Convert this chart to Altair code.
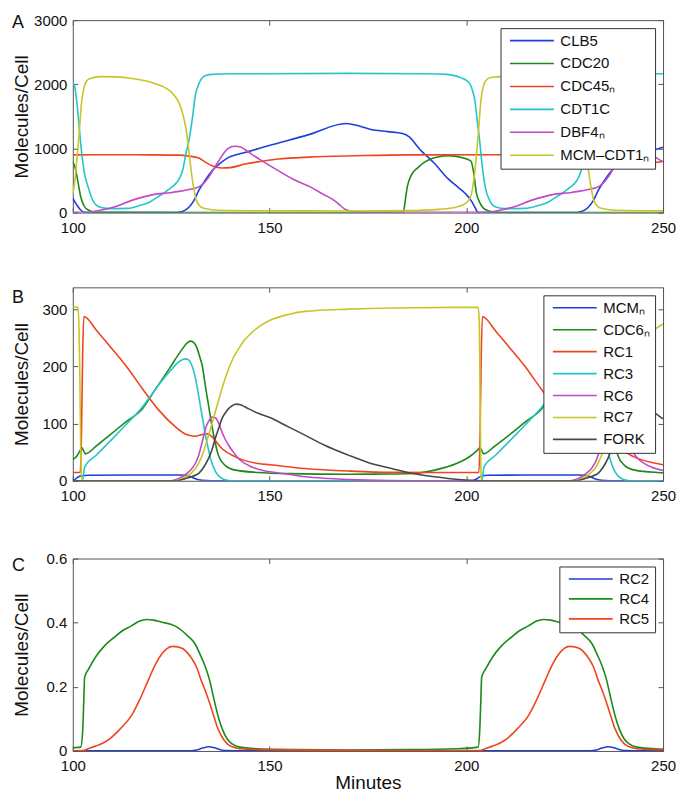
import altair as alt
import pandas as pd

FONT = "Liberation Sans"
XTICKS = [100, 150, 200, 250]

BLUE = "#1f3fd9"
GREEN = "#1b8a1b"
RED = "#f0441f"
CYAN = "#25c5c8"
MAGENTA = "#c447c8"
YELLOW = "#c6c628"
GRAY = "#484848"

# ---------------- Panel A ----------------
A_CLB5 = [(100, 220), (101, 120), (102, 40), (103, 5), (104, 0), (126, 0), (127, 5), (128.3, 30), (129.5, 83),
          (130.8, 190), (132, 342), (133.7, 510), (135.4, 653), (137.5, 770), (139.6, 860), (141.7, 905),
          (143.8, 937), (149.7, 1041), (160, 1215), (169.4, 1388), (171.5, 1370), (175.5, 1300), (180, 1262),
          (183.8, 1232), (185.5, 1180), (188, 1000), (192, 760), (195.4, 525), (198, 390), (199.8, 294),
          (201.2, 190), (202.2, 80), (203, 0), (228, 0), (228.5, 5), (229.8, 30), (231, 83), (232.3, 190),
          (233.5, 342), (235.2, 510), (236.9, 653), (239, 770), (241.1, 860), (243.2, 905), (245.3, 937),
          (250, 1020)]
A_CDC20 = [(100, 790), (100.6, 700), (101.3, 480), (102, 250), (102.8, 110), (104, 35), (106, 5), (184, 0),
           (184.4, 150), (185, 400), (186, 580), (187.7, 700), (189.5, 790), (191, 835), (193, 870), (195.4, 887),
           (197, 880), (198.7, 860), (200.3, 830), (201.2, 800), (201.8, 650), (202.6, 295), (203.4, 160),
           (204.2, 80), (205.5, 30), (207.5, 8), (210, 0), (250, 0)]
A_CDC45 = [(100, 900), (110, 902), (120, 900), (127, 895), (129.5, 880), (132, 850), (134, 775), (135.4, 730),
           (137.9, 694), (140, 700), (143.8, 756), (148, 800), (152.2, 834), (160, 865), (172, 886), (185, 900),
           (228, 902), (230.5, 880), (233, 850), (235.5, 775), (236.9, 730), (239.4, 694), (241.5, 700),
           (245.3, 756), (250, 795)]
A_CDT1C = [(100, 2030), (100.5, 1960), (101, 1737), (101.6, 1350), (102.2, 964), (103, 600), (103.9, 397),
           (105, 200), (106, 113), (107.5, 75), (109.4, 62), (114, 65), (117, 110), (119.5, 160), (121.5, 240),
           (123.5, 320), (124.8, 380), (126, 440), (127, 520), (128, 680), (128.7, 910), (129.5, 1119),
           (130.3, 1430), (131.2, 1845), (132, 2000), (132.9, 2103), (134, 2140), (135.4, 2155), (140, 2163),
           (170, 2170), (190, 2165), (195, 2155), (197, 2135), (198.7, 2100), (200, 2060), (201, 2000),
           (201.6, 1900), (202.2, 1737), (202.8, 1420), (203.4, 1120), (204, 750), (204.8, 400), (206, 180),
           (207.5, 88), (210, 62), (215, 65), (218.3, 110), (220.8, 160), (222.8, 240), (224.8, 320),
           (226.1, 380), (227.3, 440), (228.3, 520), (229.3, 680), (230, 910), (230.8, 1119), (231.6, 1430),
           (232.5, 1845), (233.3, 2000), (234.2, 2103), (235.5, 2140), (236.7, 2155), (250, 2165)]
A_DBF4 = [(100, 5), (104, 6), (107, 36), (110.5, 88), (115, 190), (120.4, 280), (124.8, 310), (127, 330),
          (129.5, 360), (132, 400), (133.3, 460), (134.5, 549), (135.8, 680), (137.1, 808), (138.3, 920),
          (139.5, 1000), (141.1, 1035), (142.5, 1025), (143.8, 980), (145.4, 912), (148, 810), (152.2, 653),
          (156, 520), (160.6, 393), (163.5, 290), (166.5, 186), (168, 110), (169, 57), (170.3, 28), (171.5, 15),
          (175, 5), (205, 5), (208.5, 36), (212, 88), (216.5, 190), (221.9, 280), (226.3, 310), (228.5, 330),
          (231, 360), (233.5, 400), (234.8, 460), (236, 549), (237.3, 680), (238.6, 808), (239.8, 920),
          (241, 1000), (242.6, 1035), (244, 1025), (245.3, 980), (246.9, 912), (249.5, 810), (250, 795)]
A_MCMCDT1 = [(100, 300), (100.5, 480), (101, 800), (101.6, 1220), (102.2, 1700), (102.8, 1940), (103.5, 2050),
             (104.4, 2090), (107, 2120), (111, 2115), (115, 2090), (120.4, 2020), (124.8, 1890), (126, 1810),
             (127, 1710), (128.1, 1500), (128.7, 1330), (129.2, 1120), (129.8, 800), (130.3, 550), (130.9, 330),
             (131.4, 190), (132.5, 90), (133.6, 62), (137, 36), (150, 28), (170, 25), (185, 30), (193, 50),
             (197.6, 88), (200, 150), (201, 230), (201.6, 380), (202.1, 600), (202.6, 900), (203.2, 1350),
             (203.7, 1737), (204.3, 1960), (204.8, 2045), (206.4, 2110), (210, 2120), (214, 2115), (218, 2090),
             (222, 2020), (226.3, 1890), (227.4, 1810), (228.4, 1710), (229.3, 1500), (229.8, 1330),
             (230.3, 1120), (230.8, 800), (231.3, 550), (231.9, 330), (232.4, 190), (233.5, 90), (234.6, 62),
             (238, 36), (250, 28)]

A_NAMES = ["CLB5", "CDC20", "CDC45ₙ", "CDT1C", "DBF4ₙ", "MCM–CDT1ₙ"]
A_DATA = [A_CLB5, A_CDC20, A_CDC45, A_CDT1C, A_DBF4, A_MCMCDT1]
A_COLORS = [BLUE, GREEN, RED, CYAN, MAGENTA, YELLOW]
A_YTICKS = [0, 1000, 2000, 3000]

# ---------------- Panel B ----------------
B_MCM = [(100, 0), (100.5, 2), (101.2, 6), (102, 8.5), (104, 9.5), (115, 10), (127, 10), (128.7, 9.5),
         (129.6, 8), (130.4, 5.8), (131.2, 3.5), (132, 1.7), (134, 0.3), (136, 0), (201.5, 0), (202.3, 2),
         (203, 5), (203.8, 8), (205.5, 9.5), (215, 10), (228.5, 10), (230.2, 9.5), (231.1, 8), (231.9, 5.8),
         (232.7, 3.5), (233.5, 1.7), (235.5, 0.3), (237.5, 0), (250, 0)]
B_CDC6 = [(100, 37), (101, 43), (101.8, 52), (102.3, 58), (102.7, 53), (103.2, 47), (106, 61), (109.3, 79.5),
          (113.5, 103), (117.7, 126), (121, 160), (124.5, 195.6), (127.8, 230), (129, 240.5), (129.9, 244),
          (130.7, 242), (131.5, 233), (132.2, 218), (132.9, 201), (133.7, 165), (134.5, 131.7), (135.2, 102),
          (135.8, 79.5), (137, 44.7), (138.7, 27), (141.3, 18.6), (147.1, 14.5), (155, 12.5), (170, 11.5),
          (180, 11.8), (186.6, 12.8), (192, 18.6), (197.5, 30), (200.8, 42), (202.8, 53), (203.5, 58),
          (203.9, 53), (204.4, 47), (207.3, 61), (210.8, 79.5), (215, 103), (219.2, 126), (222.5, 160),
          (226, 195.6), (229.3, 230), (230.5, 240.5), (231.4, 244), (232.2, 242), (233, 233), (233.7, 218),
          (234.4, 201), (235.2, 165), (236, 131.7), (236.7, 102), (237.3, 79.5), (238.5, 44.7), (240.2, 27),
          (242.8, 18.6), (248.6, 14.5), (250, 14)]
B_RC1 = [(100, 14.5), (101.9, 14.5), (102.2, 80), (102.5, 220), (102.8, 287), (103.4, 285), (106, 263),
         (109.3, 236), (113.5, 201), (117.7, 160.8), (121.9, 123), (126.1, 94), (128, 84), (129.5, 79.5),
         (131.2, 77.8), (132.9, 81), (134.2, 82), (135.2, 78), (135.8, 73.7), (137.9, 56.3), (141.3, 41.8),
         (147.1, 30.2), (150.2, 28), (159, 21.5), (170, 17), (181, 14.6), (203.2, 14.5), (203.5, 80),
         (203.8, 220), (204.1, 287), (204.7, 285), (207.3, 263), (210.6, 236), (214.8, 201), (219, 160.8),
         (223.2, 123), (227.4, 94), (229.3, 84), (230.8, 79.5), (232.5, 77.8), (234.2, 81), (235.5, 82),
         (236.5, 78), (237.1, 73.7), (239.2, 56.3), (242.6, 41.8), (248.4, 30.2), (250, 28)]
B_RC3 = [(100, 0), (102.4, 0), (102.7, 10), (103, 24), (106, 45), (109.3, 68), (113.5, 98), (117.7, 129),
         (121, 160), (124.5, 190), (127, 208), (128.5, 213), (129.3, 212), (129.9, 207), (130.6, 195),
         (131.2, 178), (131.8, 156), (132.4, 131.7), (133.1, 104), (133.7, 79.5), (134.4, 57), (135, 39),
         (136.3, 15.7), (137.9, 4), (139.6, 0.6), (141, 0), (203.9, 0), (204.2, 10), (204.5, 24), (207.5, 45),
         (210.8, 68), (215, 98), (219.2, 129), (222.5, 160), (226, 190), (228.5, 208), (230, 213),
         (230.8, 212), (231.4, 207), (232.1, 195), (232.7, 178), (233.3, 156), (233.9, 131.7), (234.6, 104),
         (235.2, 79.5), (235.9, 57), (236.5, 39), (237.8, 15.7), (239.4, 4), (241.1, 0.6), (242.5, 0),
         (250, 0)]
B_RC6 = [(100, 0), (125, 0), (126.5, 2.5), (127.8, 7), (129, 13), (130.3, 21.5), (131.2, 31), (132, 44.7),
         (132.9, 68), (133.7, 91), (134.6, 105), (135.4, 111.4), (136.3, 109.7), (137.1, 100), (137.9, 85),
         (138.7, 73), (139.6, 62), (140.8, 50), (142.1, 38.9), (145.5, 24), (149, 17), (153.5, 12.8),
         (159, 7), (165, 4), (170, 2.3), (180, 0.5), (190, 0), (226.5, 0), (228, 2.5), (229.3, 7),
         (230.5, 13), (231.8, 21.5), (232.7, 31), (233.5, 44.7), (234.4, 68), (235.2, 91), (236.1, 105),
         (236.9, 111.4), (237.8, 109.7), (238.6, 100), (239.4, 85), (240.2, 73), (241.1, 62), (242.3, 50),
         (243.6, 38.9), (247, 24), (250, 18)]
B_RC7 = [(100, 304), (101.3, 303), (101.6, 260), (101.8, 178), (102, 60), (102.2, 10), (102.5, 0), (126, 0),
         (127.5, 3), (128.7, 7), (130, 13), (131.2, 21.5), (132.9, 44.7), (134.5, 79.5), (136.2, 120),
         (137.9, 160.8), (139.6, 195.6), (140.8, 215), (142.1, 230), (143.3, 243), (144.6, 253), (147.1, 268),
         (150, 280), (155, 291), (159, 296), (170, 300), (181, 302), (203, 303), (203.3, 280), (203.5, 150),
         (203.7, 20), (203.9, 0), (227.5, 0), (229, 3), (230.2, 7), (231.5, 13), (232.7, 21.5), (234.4, 44.7),
         (236, 79.5), (237.7, 120), (239.4, 160.8), (241.1, 195.6), (242.3, 215), (243.6, 230), (244.8, 243),
         (246.1, 253), (248.6, 268), (250, 274)]
B_FORK = [(100, 0), (126, 0), (127.5, 1.5), (128.7, 4), (130.5, 8), (132, 12.8), (133.3, 24), (134.5, 39),
          (135.4, 55), (136.2, 73.7), (137.1, 92), (137.9, 108.5), (138.7, 118), (139.6, 126), (140.5, 131),
          (141.5, 134), (142.6, 133), (143.8, 129), (147.1, 118), (150.2, 110), (154, 97), (159, 79.8),
          (164, 62), (170, 44.8), (175, 32), (181, 21.5), (186, 13), (192, 7), (196, 3.5), (199.8, 1.2),
          (205, 0), (227.5, 0), (229, 1.5), (230.2, 4), (232, 8), (233.5, 12.8), (234.8, 24), (236, 39),
          (236.9, 55), (237.7, 73.7), (238.6, 92), (239.4, 108.5), (240.2, 118), (241.1, 126), (242, 131),
          (243, 134), (244.1, 133), (245.3, 129), (248.6, 115), (250, 108)]

B_NAMES = ["MCMₙ", "CDC6ₙ", "RC1", "RC3", "RC6", "RC7", "FORK"]
B_DATA = [B_MCM, B_CDC6, B_RC1, B_RC3, B_RC6, B_RC7, B_FORK]
B_COLORS = [BLUE, GREEN, RED, CYAN, MAGENTA, YELLOW, GRAY]
B_YTICKS = [0, 100, 200, 300]

# ---------------- Panel C ----------------
C_RC2 = [(100, 0.0005), (130, 0.0005), (131.5, 0.003), (133, 0.009), (134.5, 0.013), (136, 0.01),
         (137.5, 0.004), (139, 0.001), (141, 0.0005), (231.5, 0.0005), (233, 0.003), (234.5, 0.009),
         (236, 0.013), (237.5, 0.01), (239, 0.004), (240.5, 0.001), (242.5, 0.0005), (250, 0.0005)]
C_RC4 = [(100, 0.01), (101, 0.011), (102, 0.012), (102.5, 0.06), (102.8, 0.16), (103, 0.23), (104, 0.255),
         (106, 0.297), (108, 0.327), (110.5, 0.354), (112.5, 0.374), (114.9, 0.39), (117, 0.405),
         (118.7, 0.41), (120.5, 0.408), (122.5, 0.402), (125.9, 0.39), (129.2, 0.359), (131, 0.335),
         (132.5, 0.297), (133.7, 0.262), (134.7, 0.224), (135.8, 0.165), (136.9, 0.11), (138, 0.068),
         (139.2, 0.038), (140.5, 0.022), (142.5, 0.012), (150, 0.005), (170, 0.003), (185, 0.004),
         (197.6, 0.007), (203, 0.012), (203.4, 0.06), (203.7, 0.16), (203.9, 0.23), (204.9, 0.255),
         (206.9, 0.297), (208.9, 0.327), (211.4, 0.354), (213.4, 0.374), (215.8, 0.39), (217.9, 0.405),
         (219.6, 0.41), (221.4, 0.408), (223.4, 0.402), (226.8, 0.39), (230.1, 0.359), (231.9, 0.335),
         (233.4, 0.297), (234.6, 0.262), (235.6, 0.224), (236.7, 0.165), (237.8, 0.11), (238.9, 0.068),
         (240.1, 0.038), (241.4, 0.022), (243.4, 0.012), (250, 0.005)]
C_RC5 = [(100, 0.0005), (102.5, 0.001), (103.9, 0.007), (106, 0.016), (109.4, 0.038), (112, 0.068),
         (114.9, 0.11), (117, 0.16), (119.3, 0.224), (121, 0.27), (122.6, 0.302), (124, 0.32), (125.4, 0.326),
         (126.8, 0.324), (128.1, 0.318), (129.2, 0.305), (130.3, 0.287), (131.5, 0.26), (132.5, 0.224),
         (133.6, 0.19), (134.7, 0.152), (135.8, 0.11), (136.9, 0.069), (138, 0.042), (139.2, 0.023),
         (140.5, 0.013), (142.5, 0.007), (148, 0.004), (170, 0.002), (203.4, 0.001), (204.8, 0.007),
         (206.9, 0.016), (210.3, 0.038), (212.9, 0.068), (215.8, 0.11), (217.9, 0.16), (220.2, 0.224),
         (221.9, 0.27), (223.5, 0.302), (224.9, 0.32), (226.3, 0.326), (227.7, 0.324), (229, 0.318),
         (230.1, 0.305), (231.2, 0.287), (232.4, 0.26), (233.4, 0.224), (234.5, 0.19), (235.6, 0.152),
         (236.7, 0.11), (237.8, 0.069), (238.9, 0.042), (240.1, 0.023), (241.4, 0.013), (243.4, 0.007),
         (248.9, 0.004), (250, 0.004)]

C_NAMES = ["RC2", "RC4", "RC5"]
C_DATA = [C_RC2, C_RC4, C_RC5]
C_COLORS = [BLUE, GREEN, RED]
C_YTICKS = [0, 0.2, 0.4, 0.6]

W = 592
LABEL_EXPR = "'' + datum.value"


def make_df(names, data):
    rows = []
    for name, pts in zip(names, data):
        for t, v in pts:
            rows.append({"t": t, "v": v, "s": name})
    return pd.DataFrame(rows)


def panel(names, data, colors, ymax, yticks, letter, letter_y, row_pad, height, xtitle=None):
    df = make_df(names, data)
    xs = alt.Scale(domain=[100, 250], nice=False, zero=False)
    ys = alt.Scale(domain=[0, ymax], nice=False, zero=False)
    xaxis_kw = dict(orient="bottom", values=XTICKS, offset=-5, tickSize=5, domain=False, grid=False,
                    labelPadding=8, labelExpr=LABEL_EXPR, labelFlush=False)
    if xtitle:
        xaxis_kw.update(title=xtitle, titleFontSize=19, titlePadding=0)
    else:
        xaxis_kw.update(title=None)
    lines = alt.Chart(df).mark_line(strokeWidth=1.6, interpolate="monotone", clip=True).encode(
        x=alt.X("t:Q", scale=xs, axis=alt.Axis(**xaxis_kw)),
        y=alt.Y("v:Q", scale=ys, axis=alt.Axis(
            orient="left", values=yticks, offset=-5, tickSize=5, domain=False, grid=False,
            labelPadding=6, labelExpr=LABEL_EXPR, title="Molecules/Cell", titleFontSize=19,
            titleX=-56, titleY=height / 2, titleAlign="center", titleBaseline="middle", titleAngle=270)),
        color=alt.Color("s:N", sort=names, scale=alt.Scale(domain=names, range=colors),
                        legend=alt.Legend(title=None, orient="top-right", offset=8, fillColor="white",
                                          strokeColor="#333", padding=5, symbolType="M0,0H8",
                                          symbolSize=121, symbolStrokeWidth=1.6, symbolOffset=-3,
                                          labelFontSize=15, labelFont=FONT, labelOffset=43,
                                          rowPadding=row_pad, labelColor="#111")),
    )
    frame = alt.Chart(df).mark_line(opacity=0).encode(
        x=alt.X("t:Q", scale=xs, axis=alt.Axis(orient="top", values=XTICKS, offset=-5, tickSize=5,
                                               domain=False, grid=False, labels=False, title=None)),
        y=alt.Y("v:Q", scale=ys, axis=alt.Axis(orient="right", values=yticks, offset=-5, tickSize=5,
                                               domain=False, grid=False, labels=False, title=None)),
    )
    lab = alt.Chart(pd.DataFrame({"k": [letter]})).mark_text(
        align="left", baseline="alphabetic", fontSize=18, font=FONT, color="#111"
    ).encode(text="k:N", x=alt.value(-61), y=alt.value(letter_y))
    return alt.layer(lines, frame, lab).resolve_axis(x="independent", y="independent").properties(
        width=W, height=height)


pa = panel(A_NAMES, A_DATA, A_COLORS, 3000, A_YTICKS, "A", 8, 7, 193)
pb = panel(B_NAMES, B_DATA, B_COLORS, 338, B_YTICKS, "B", 16, 6, 194)
pc = panel(C_NAMES, C_DATA, C_COLORS, 0.6, C_YTICKS, "C", 13, 4, 193, xtitle="Minutes")

top = alt.vconcat(pa, pb, spacing=50).resolve_scale(color="independent").resolve_legend(color="independent")
chart = alt.vconcat(top, pc, spacing=46).resolve_scale(color="independent").resolve_legend(
    color="independent"
).properties(
    padding={"left": 3, "top": 3, "right": 0, "bottom": 0}
).configure_view(stroke="#555", strokeWidth=1).configure_axis(
    labelFont=FONT, titleFont=FONT, labelFontSize=15, labelColor="#111", titleColor="#111",
    titleFontWeight="normal", tickColor="#555"
)

chart.save("out.html", embed_options={"renderer": "svg", "actions": False})
